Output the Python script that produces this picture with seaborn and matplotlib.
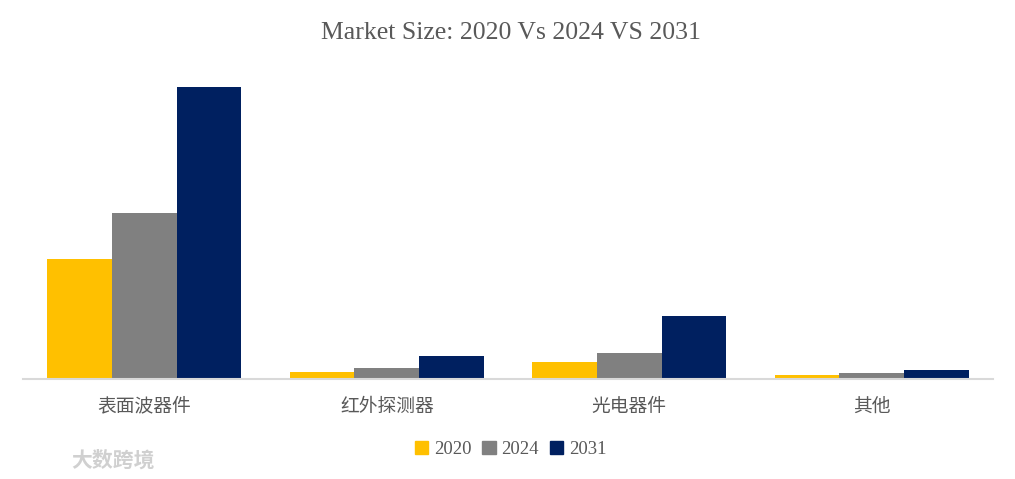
import seaborn as sns
import matplotlib.pyplot as plt
import pandas as pd

# Market size values (arbitrary units)
categories = ['表面波器件', '红外探测器', '光电器件', '其他']
years = ['2020', '2024', '2031']
size_2020 = [120, 7, 17, 4]
size_2024 = [166, 11, 26, 6]
size_2031 = [292, 23, 63, 9]
colors = ['#FFC000', '#808080', '#002060']

rows = []
for year, values in zip(years, [size_2020, size_2024, size_2031]):
    for cat, v in zip(categories, values):
        rows.append({'category': cat, 'year': year, 'value': v})
df = pd.DataFrame(rows)

sns.set_style('white')
plt.rcParams['font.family'] = ['Noto Sans CJK SC', 'DejaVu Sans']

fig = plt.figure(figsize=(10.15, 4.79), dpi=100)
ax = fig.add_axes([0.0227, 0.2088, 0.9557, 0.647])

sns.barplot(data=df, x='category', y='value', hue='year', palette=colors,
            width=0.8, saturation=1, ax=ax, legend=False, linewidth=0)

ax.set_xlim(-0.5, 3.5)
ax.set_ylim(0, 310)
ax.set_xlabel('')
ax.set_ylabel('')
ax.set_yticks([])
for side in ['top', 'right', 'left']:
    ax.spines[side].set_visible(False)
ax.spines['bottom'].set_color('#D9D9D9')
ax.spines['bottom'].set_linewidth(1.5)
ax.tick_params(axis='x', length=0, pad=12, labelsize=13.5, labelcolor='#595959')

# Title
fig.text(0.503, 0.932, 'Market Size: 2020 Vs 2024 VS 2031', ha='center', va='center',
         fontsize=18.5, color='#595959', family=['Liberation Serif', 'DejaVu Serif'])

# Legend
handles = [plt.Rectangle((0, 0), 1, 1, color=c) for c in colors]
fig.legend(handles, years, loc='center', bbox_to_anchor=(0.503, 0.062), ncol=3,
           frameon=False, handlelength=0.7, handleheight=0.7, handletextpad=0.3,
           columnspacing=0.6,
           prop={'family': ['Liberation Serif', 'DejaVu Serif'], 'size': 13.5},
           labelcolor='#595959')

# Watermark
fig.text(0.07, 0.04, '大数跨境', ha='left', va='center', fontsize=15,
         color='#D0D0D0', fontweight='bold')

fig.savefig('out.png', dpi=100)
